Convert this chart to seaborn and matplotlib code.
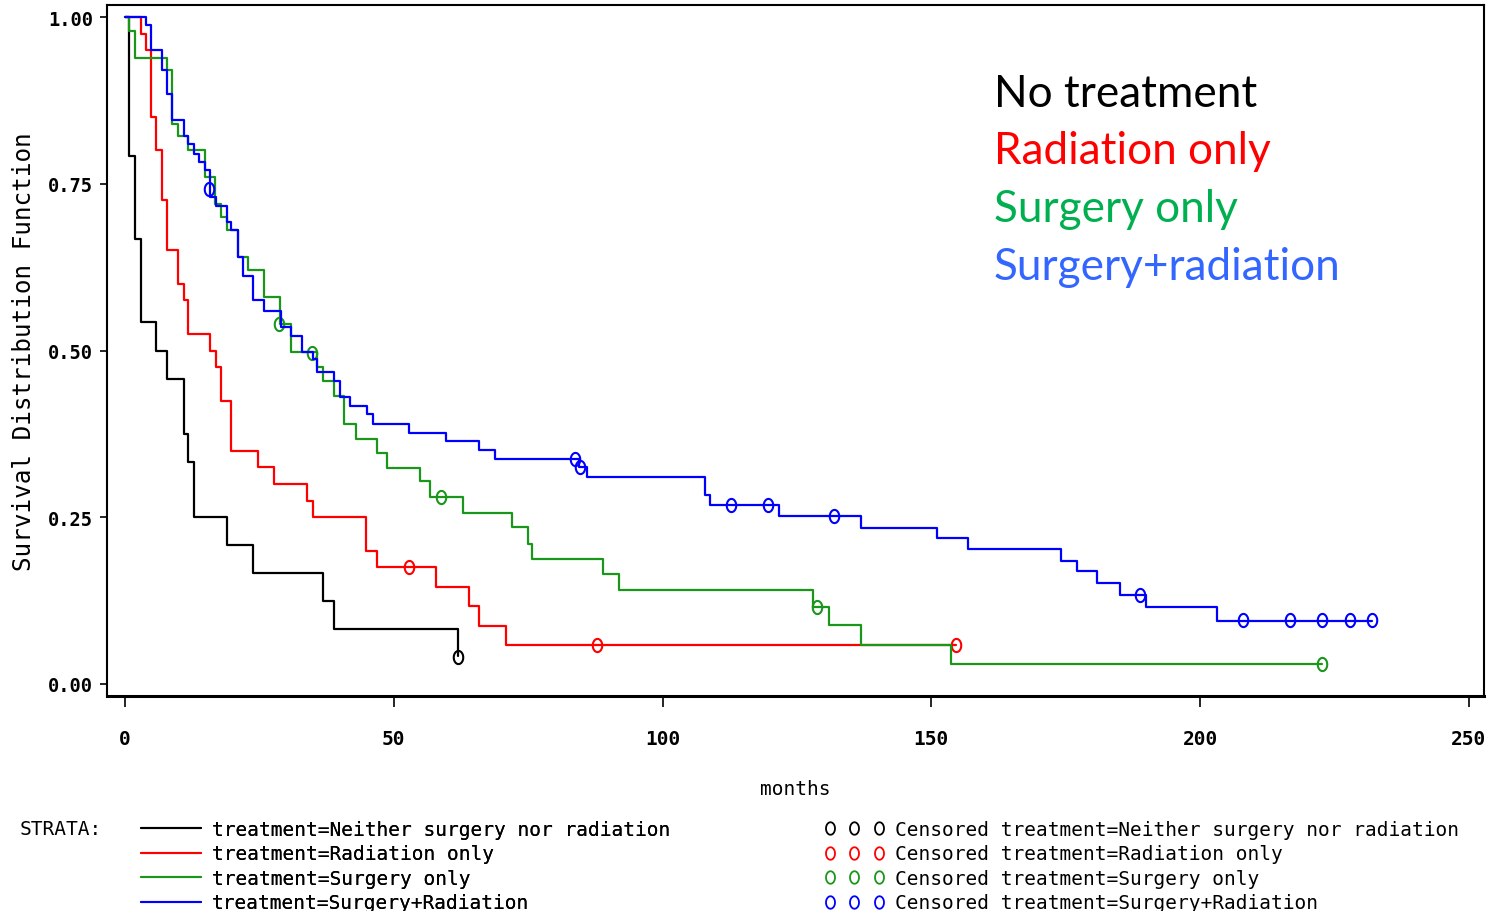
import numpy as np
import pandas as pd
import matplotlib
matplotlib.use("Agg")
import matplotlib.pyplot as plt
import seaborn as sns
from matplotlib.path import Path
from matplotlib.lines import Line2D

# ---------------- data ----------------
groups = ["Neither surgery nor radiation", "Radiation only", "Surgery only", "Surgery+Radiation"]

t_neither = [0, 0.8, 1.9, 3.0, 5.7, 7.9, 10.9, 11.8, 12.9, 19.0, 23.9, 36.9, 38.8, 61.9, 61.9]
s_neither = [1.0, 0.792, 0.667, 0.542, 0.5, 0.458, 0.375, 0.333, 0.25, 0.208, 0.167, 0.125, 0.083, 0.042, 0.042]
ct_neither = [61.9]
cs_neither = [0.040]

t_rad = [0, 3.0, 3.85, 4.85, 5.7, 6.8, 7.9, 9.9, 10.9, 11.8, 15.9, 16.9, 17.9, 19.8, 24.7, 27.8,
         33.9, 34.9, 44.8, 46.8, 57.8, 63.9, 65.9, 70.8, 154.6]
s_rad = [1.0, 0.975, 0.95, 0.85, 0.8, 0.725, 0.65, 0.6, 0.575, 0.525, 0.5, 0.475, 0.425, 0.35, 0.325, 0.3,
         0.275, 0.25, 0.2, 0.175, 0.146, 0.117, 0.0875, 0.0583, 0.0583]
ct_rad = [52.8, 87.8, 154.6]
cs_rad = [0.175, 0.0583, 0.0583]

t_surg = [0, 0.8, 1.9, 7.9, 8.8, 9.9, 11.8, 14.9, 16.7, 17.9, 18.9, 21.0, 22.8, 25.9, 28.9, 30.8,
          35.8, 36.9, 38.9, 40.7, 42.9, 46.8, 48.7, 54.8, 56.7, 62.8, 71.9, 74.9, 75.8, 89.0, 91.8,
          127.9, 130.9, 136.9, 153.7, 222.7]
s_surg = [1.0, 0.979, 0.939, 0.92, 0.84, 0.821, 0.80, 0.76, 0.72, 0.70, 0.68, 0.64, 0.62, 0.58, 0.54, 0.498,
          0.476, 0.455, 0.432, 0.39, 0.368, 0.347, 0.324, 0.304, 0.281, 0.257, 0.236, 0.21, 0.187, 0.165, 0.141,
          0.116, 0.088, 0.058, 0.03, 0.03]
ct_surg = [28.6, 34.7, 58.7, 128.7, 222.7]
cs_surg = [0.539, 0.497, 0.281, 0.116, 0.03]

t_both = [0, 3.85, 4.85, 6.8, 7.9, 8.8, 10.9, 11.8, 12.9, 13.8, 14.9, 15.9, 16.9, 18.9, 19.8, 21.0, 21.9,
          23.9, 25.9, 29.0, 30.8, 32.9, 35.0, 35.8, 38.9, 40.0, 41.9, 45.0, 46.1, 52.9, 59.7, 65.9, 68.9,
          84.5, 85.9, 107.9, 108.8, 121.7, 136.9, 151.0, 156.9, 174.1, 177.1, 180.9, 185.1, 190.0, 203.1, 231.9]
s_both = [1.0, 0.988, 0.95, 0.921, 0.884, 0.846, 0.821, 0.809, 0.795, 0.782, 0.770, 0.73, 0.717, 0.692, 0.68,
          0.64, 0.612, 0.575, 0.559, 0.535, 0.522, 0.498, 0.487, 0.468, 0.455, 0.431, 0.417, 0.405, 0.39, 0.377,
          0.364, 0.351, 0.338, 0.325, 0.311, 0.283, 0.268, 0.252, 0.234, 0.219, 0.202, 0.185, 0.169, 0.151,
          0.134, 0.116, 0.095, 0.095]
ct_both = [15.7, 83.7, 84.7, 112.7, 119.7, 131.8, 188.9, 207.9, 216.8, 222.7, 227.8, 231.9]
cs_both = [0.742, 0.338, 0.325, 0.268, 0.268, 0.252, 0.134, 0.096, 0.096, 0.096, 0.096, 0.096]

x_ticks = [0, 50, 100, 150, 200, 250]
y_ticks = [0.0, 0.25, 0.5, 0.75, 1.0]
y_ticklabels = ["0.00", "0.25", "0.50", "0.75", "1.00"]
annot_labels = ["No treatment", "Radiation only", "Surgery only", "Surgery+radiation"]

line_colors = ["#000000", "#ff0000", "#1a961a", "#0000ff"]
text_colors = ["#000000", "#ff0000", "#00b050", "#3366ff"]

curves = [(t_neither, s_neither, ct_neither, cs_neither),
          (t_rad, s_rad, ct_rad, cs_rad),
          (t_surg, s_surg, ct_surg, cs_surg),
          (t_both, s_both, ct_both, cs_both)]

# ---------------- figure ----------------
sns.set_theme(style="white")
plt.rcParams["font.family"] = ["DejaVu Sans Mono", "DejaVu Sans"]

W, H = 1490, 912
fig = plt.figure(figsize=(W / 100, H / 100), dpi=100)
fig.patch.set_facecolor("white")
ax = fig.add_axes([107 / W, 1 - 697 / H, (1484 - 107) / W, (697 - 6) / H])

theta = np.linspace(0, 2 * np.pi, 41)
ellipse = Path(np.column_stack([0.72 * np.cos(theta), np.sin(theta)]), closed=True)

for g, col, (t, s, ct, cs) in zip(groups, line_colors, curves):
    df = pd.DataFrame({"months": t, "survival": s})
    sns.lineplot(data=df, x="months", y="survival", drawstyle="steps-post", color=col,
                 lw=1.6, ax=ax, estimator=None, sort=False)
    cdf = pd.DataFrame({"months": ct, "survival": cs})
    sns.lineplot(data=cdf, x="months", y="survival", color=col, linestyle="", marker=ellipse,
                 markersize=9.5, markerfacecolor="none", markeredgecolor=col, markeredgewidth=1.5,
                 ax=ax, estimator=None, sort=False)

ax.set_xlim(-3.35, 252.8)
ax.set_ylim(-0.018, 1.018)
ax.set_xticks(x_ticks)
ax.set_xticklabels([str(v) for v in x_ticks])
ax.set_yticks(y_ticks)
ax.set_yticklabels(y_ticklabels)
for lab in ax.get_xticklabels() + ax.get_yticklabels():
    lab.set_fontweight("bold")
ax.tick_params(axis="x", direction="out", length=8, width=1.2, color="black",
               pad=16, labelsize=14, labelcolor="black", bottom=True)
ax.tick_params(axis="y", direction="out", length=5, width=1.2, color="black",
               pad=5, labelsize=13.5, labelcolor="black", left=True)
for sp in ax.spines.values():
    sp.set_visible(True)
    sp.set_color("black")
    sp.set_linewidth(1.5)
ax.spines["bottom"].set_linewidth(2.2)
ax.grid(False)

ax.set_xlabel("months", fontsize=14, color="black", labelpad=22)
ax.set_ylabel("Survival Distribution Function", fontsize=17.5, color="black", labelpad=9)

# annotation block (top right)
for i, (lab, col) in enumerate(zip(annot_labels, text_colors)):
    fig.text(994 / W, 1 - (107 + 57.5 * i) / H, lab, color=col, fontsize=31.8,
             family=["Lato", "DejaVu Sans"], ha="left", va="baseline")

# legends
fig.text(20 / W, 1 - 830 / H, "STRATA:", fontsize=14, color="black", ha="left", va="center")

line_handles = [Line2D([], [], color=c, lw=1.5) for c in line_colors]
leg1 = fig.legend(line_handles, ["treatment=" + g for g in groups], loc="upper left",
                  bbox_to_anchor=(141 / W, 1 - 821 / H), frameon=False, fontsize=14,
                  handlelength=3.1, handletextpad=0.55, labelspacing=0.28, borderpad=0,
                  borderaxespad=0)
fig.add_artist(leg1)

cens_handles = [Line2D([], [], color=c, linestyle="", marker=ellipse, markersize=9,
                       markerfacecolor="none", markeredgecolor=c, markeredgewidth=1.3)
                for c in line_colors]
leg2 = fig.legend(cens_handles, ["Censored treatment=" + g for g in groups], loc="upper left",
                  bbox_to_anchor=(824 / W, 1 - 821 / H), frameon=False, fontsize=14,
                  numpoints=3, handlelength=3.13, handletextpad=0.5, labelspacing=0.28,
                  borderpad=0, borderaxespad=0)
for txt in leg1.get_texts() + leg2.get_texts():
    txt.set_color("black")

fig.savefig("out.png", dpi=100, facecolor="white")
